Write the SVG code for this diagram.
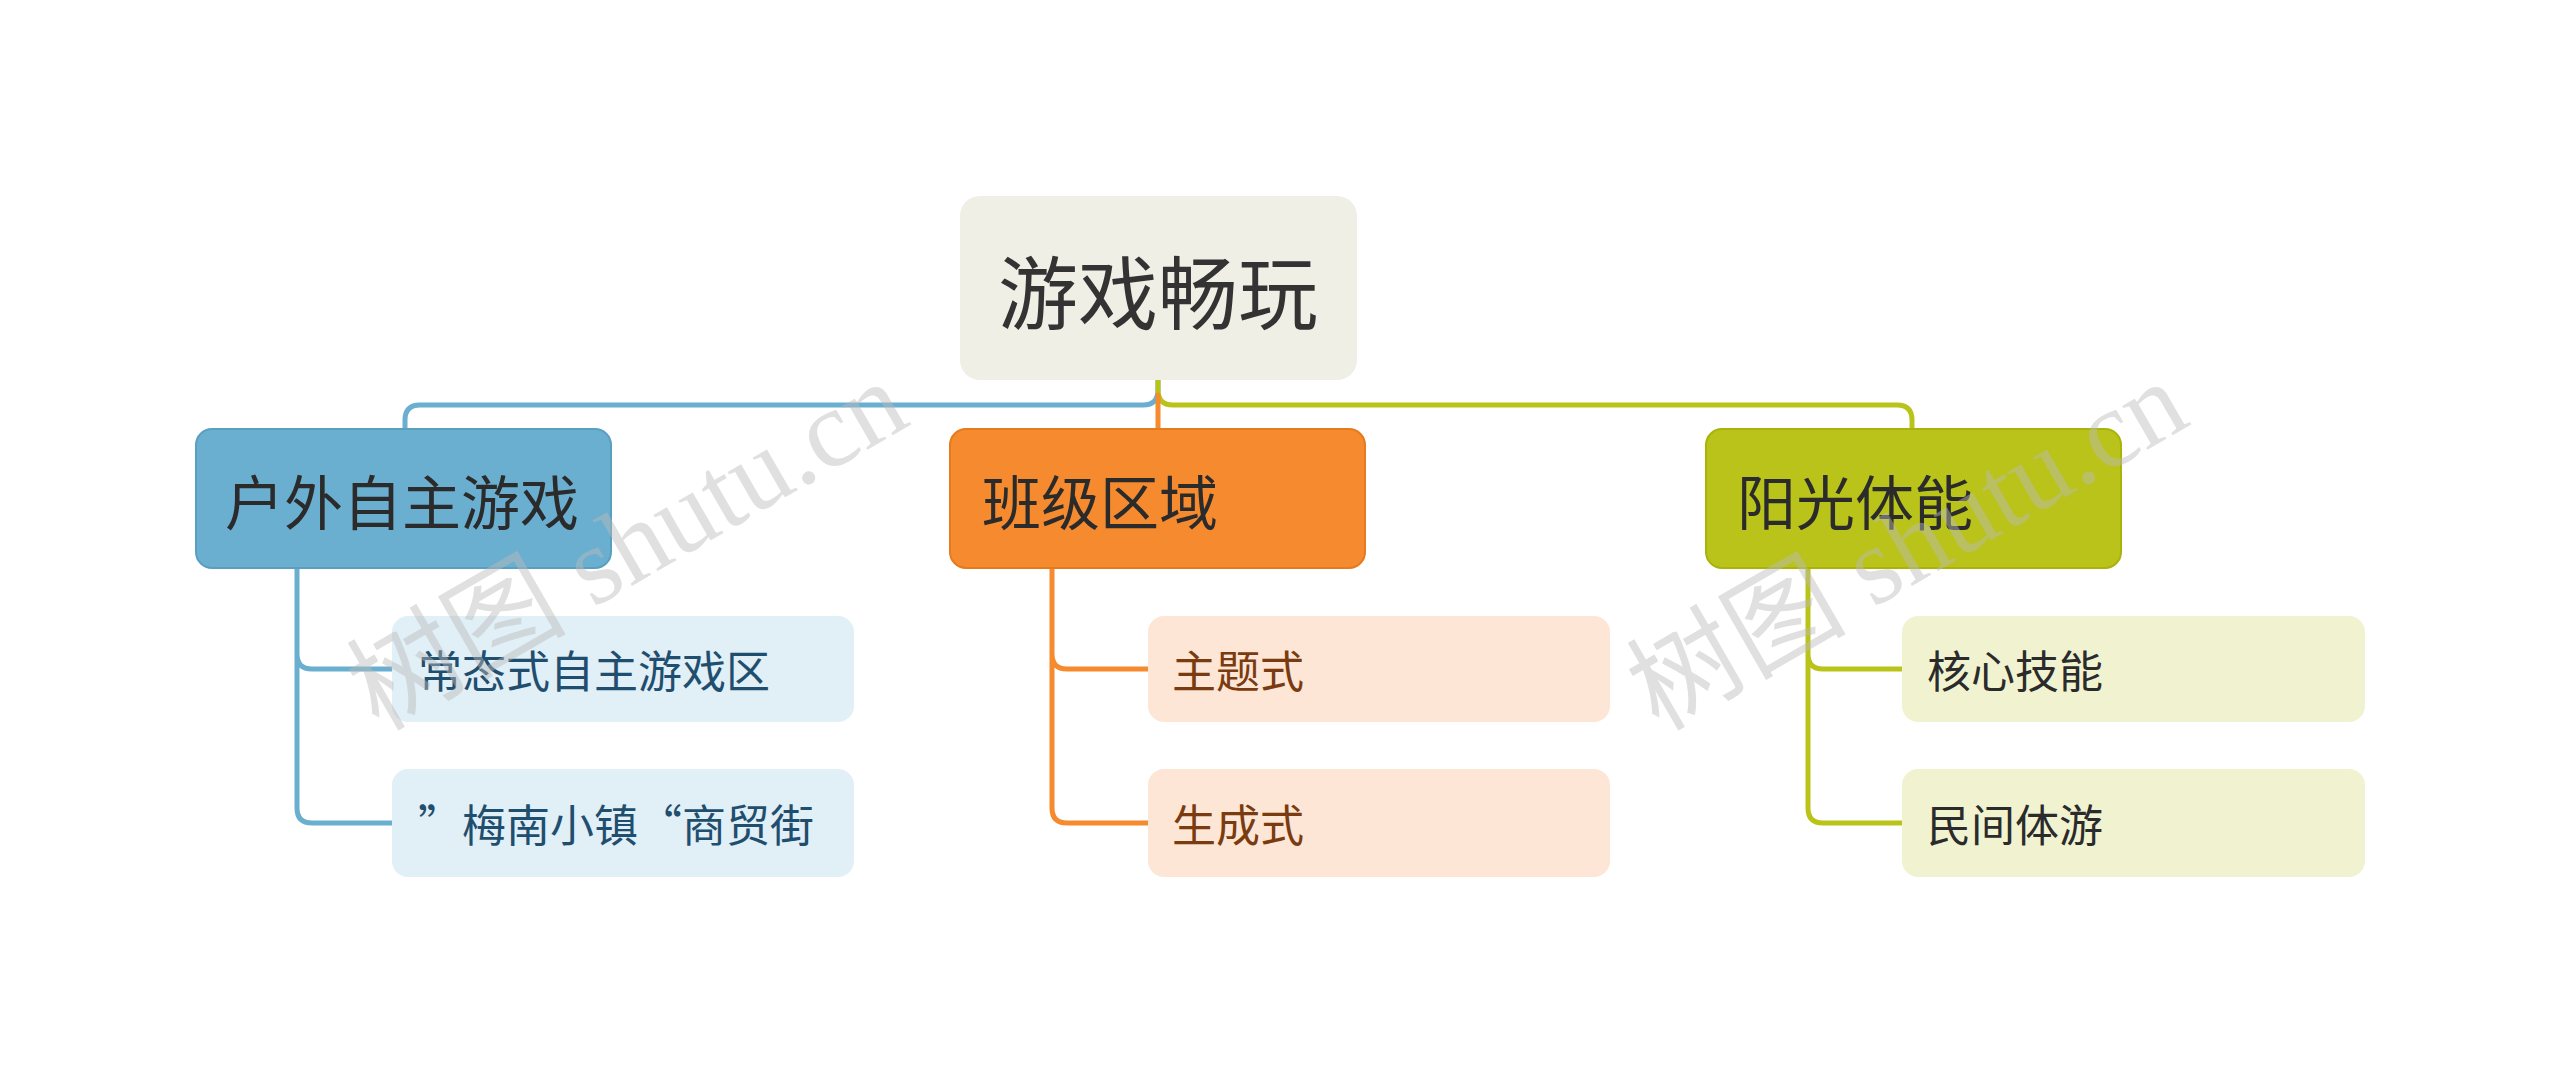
<svg xmlns="http://www.w3.org/2000/svg" width="2560" height="1073" viewBox="0 0 2560 1073">
<style>
text{font-family:"Noto Sans CJK SC","Liberation Sans",sans-serif;dominant-baseline:central}
.l1{font-size:59px;fill:#2b2b2b}
.c{font-size:44px}
.ln{fill:none;stroke-width:5;stroke-linecap:round;stroke-linejoin:round}
.wm{font-family:"Liberation Serif","Noto Sans CJK SC",serif;font-size:110px;fill:#bbbbbb;opacity:0.45}
</style>
<rect width="2560" height="1073" fill="#fff"/>
<g id="connectors">
<path class="ln" stroke="#6aafd0" d="M1158 380 V390 Q1158 405 1143 405 H420 Q405 405 405 420 V429"/>
<path class="ln" stroke="#b9c31a" d="M1158 380 V390 Q1158 405 1173 405 H1897 Q1912 405 1912 420 V429"/>
<path class="ln" stroke="#f58a2e" d="M1158 395 V429"/>
<path class="ln" stroke="#6aafd0" d="M297 568 V654 Q297 669 312 669 H392 M297 654 V808 Q297 823 312 823 H392"/>
<path class="ln" stroke="#f58a2e" d="M1052 568 V654 Q1052 669 1067 669 H1148 M1052 654 V808 Q1052 823 1067 823 H1148"/>
<path class="ln" stroke="#b9c31a" d="M1808 568 V654 Q1808 669 1823 669 H1902 M1808 654 V808 Q1808 823 1823 823 H1902"/>
</g>
<g id="root"><rect x="960" y="196" width="397" height="184" rx="20" fill="#efefe6"/><text x="1158" y="288" text-anchor="middle" font-size="80" fill="#333">游戏畅玩</text></g>
<g id="n1"><rect x="196" y="429" width="415" height="139" rx="16" fill="#6aafd0" stroke="#5a9fc0" stroke-width="2"/><text class="l1" x="225" y="499">户外自主游戏</text></g>
<g id="n2"><rect x="950" y="429" width="415" height="139" rx="16" fill="#f58a2e" stroke="#e57a1e" stroke-width="2"/><text class="l1" x="982" y="499">班级区域</text></g>
<g id="n3"><rect x="1706" y="429" width="415" height="139" rx="16" fill="#b9c31a" stroke="#a9b30a" stroke-width="2"/><text class="l1" x="1737" y="499">阳光体能</text></g>
<g id="c1"><rect x="392" y="616" width="462" height="106" rx="16" fill="#e1eff7"/><text class="c" x="418" y="669" fill="#1f4e6e">常态式自主游戏区</text></g>
<g id="c2"><rect x="392" y="769" width="462" height="108" rx="16" fill="#e1eff7"/><text class="c" x="418" y="823" fill="#1f4e6e">”梅南小镇“商贸街</text></g>
<g id="c3"><rect x="1148" y="616" width="462" height="106" rx="16" fill="#fde6d6"/><text class="c" x="1172" y="669" fill="#7a3b10">主题式</text></g>
<g id="c4"><rect x="1148" y="769" width="462" height="108" rx="16" fill="#fde6d6"/><text class="c" x="1172" y="823" fill="#7a3b10">生成式</text></g>
<g id="c5"><rect x="1902" y="616" width="463" height="106" rx="16" fill="#f1f3d0"/><text class="c" x="1927" y="669" fill="#2b2b2b">核心技能</text></g>
<g id="c6"><rect x="1902" y="769" width="463" height="108" rx="16" fill="#f1f3d0"/><text class="c" x="1927" y="823" fill="#2b2b2b">民间体游</text></g>
<text class="wm" x="360" y="700" transform="rotate(-30 360 700)">树图 shutu.cn</text>
<text class="wm" x="1640" y="700" transform="rotate(-30 1640 700)">树图 shutu.cn</text>
</svg>
